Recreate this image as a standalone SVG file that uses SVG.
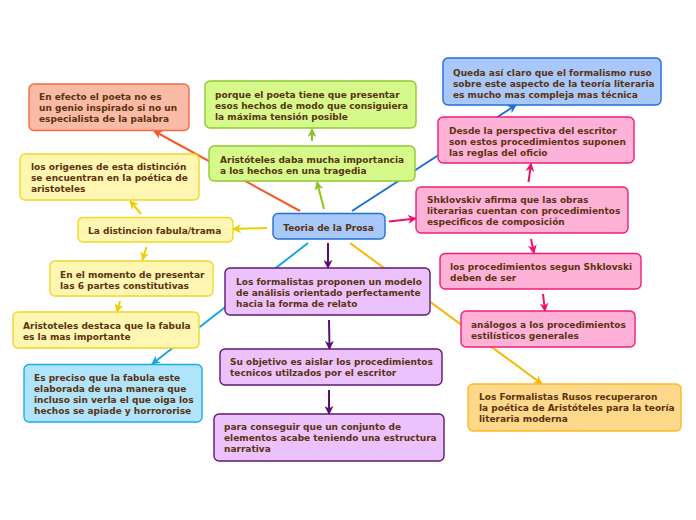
<svg xmlns="http://www.w3.org/2000/svg" width="696" height="520" viewBox="0 0 696 520">
<style>
text{font-family:"DejaVu Sans",sans-serif;font-weight:bold;font-size:9px;fill:#5a3210}
rect{stroke-width:1.4}
.c line{stroke-width:2;fill:none}
.red{fill:#f9bba6;stroke:#f36a44}
.grn{fill:#d5f98a;stroke:#92c832}
.yel{fill:#fff6b2;stroke:#f0d828}
.blu{fill:#a8c8fa;stroke:#2070d8}
.lbl{fill:#b0e4fb;stroke:#1aace8}
.pur{fill:#ebc2fb;stroke:#5e1a72}
.pnk{fill:#ffb2d8;stroke:#f01e78}
.org{fill:#fed98c;stroke:#fbba22}
</style>
<defs>
<marker id="mr" viewBox="0 0 10 10" refX="9" refY="5" markerWidth="9" markerHeight="9" markerUnits="userSpaceOnUse" orient="auto"><path d="M0,0 L10,5 L0,10 L3,5 z" fill="#f35a28"/></marker>
<marker id="mg" viewBox="0 0 10 10" refX="9" refY="5" markerWidth="9" markerHeight="9" markerUnits="userSpaceOnUse" orient="auto"><path d="M0,0 L10,5 L0,10 L3,5 z" fill="#8cc320"/></marker>
<marker id="my" viewBox="0 0 10 10" refX="9" refY="5" markerWidth="9" markerHeight="9" markerUnits="userSpaceOnUse" orient="auto"><path d="M0,0 L10,5 L0,10 L3,5 z" fill="#ecd000"/></marker>
<marker id="mb" viewBox="0 0 10 10" refX="9" refY="5" markerWidth="9" markerHeight="9" markerUnits="userSpaceOnUse" orient="auto"><path d="M0,0 L10,5 L0,10 L3,5 z" fill="#1a6fd6"/></marker>
<marker id="ml" viewBox="0 0 10 10" refX="9" refY="5" markerWidth="9" markerHeight="9" markerUnits="userSpaceOnUse" orient="auto"><path d="M0,0 L10,5 L0,10 L3,5 z" fill="#18a8e0"/></marker>
<marker id="mp" viewBox="0 0 10 10" refX="9" refY="5" markerWidth="9" markerHeight="9" markerUnits="userSpaceOnUse" orient="auto"><path d="M0,0 L10,5 L0,10 L3,5 z" fill="#5a1070"/></marker>
<marker id="mk" viewBox="0 0 10 10" refX="9" refY="5" markerWidth="9" markerHeight="9" markerUnits="userSpaceOnUse" orient="auto"><path d="M0,0 L10,5 L0,10 L3,5 z" fill="#f0106a"/></marker>
<marker id="mo" viewBox="0 0 10 10" refX="9" refY="5" markerWidth="9" markerHeight="9" markerUnits="userSpaceOnUse" orient="auto"><path d="M0,0 L10,5 L0,10 L3,5 z" fill="#f8b800"/></marker>
</defs>
<rect width="696" height="520" fill="#fff" stroke="none"/>
<g id="connectors" class="c">
<line x1="300" y1="211" x2="154" y2="131" stroke="#f35a28" marker-end="url(#mr)"/>
<line x1="324" y1="209" x2="317" y2="182" stroke="#8cc320" marker-end="url(#mg)"/>
<line x1="312" y1="141" x2="312" y2="129" stroke="#8cc320" marker-end="url(#mg)"/>
<line x1="267" y1="228" x2="233" y2="229" stroke="#ecd000" marker-end="url(#my)"/>
<line x1="141" y1="214" x2="130" y2="201" stroke="#ecd000" marker-end="url(#my)"/>
<line x1="146.5" y1="247" x2="142.5" y2="260" stroke="#ecd000" marker-end="url(#my)"/>
<line x1="120" y1="301" x2="117" y2="312" stroke="#ecd000" marker-end="url(#my)"/>
<line x1="308" y1="243" x2="152" y2="364" stroke="#18a8e0" marker-end="url(#ml)"/>
<line x1="328" y1="243" x2="328" y2="268" stroke="#5a1070" marker-end="url(#mp)"/>
<line x1="329" y1="320" x2="329.5" y2="349" stroke="#5a1070" marker-end="url(#mp)"/>
<line x1="329" y1="390" x2="329" y2="414" stroke="#5a1070" marker-end="url(#mp)"/>
<line x1="352" y1="211" x2="516" y2="105" stroke="#1a6fd6" marker-end="url(#mb)"/>
<line x1="389" y1="221.5" x2="416" y2="218.5" stroke="#f0106a" marker-end="url(#mk)"/>
<line x1="528.5" y1="182" x2="531" y2="163.5" stroke="#f0106a" marker-end="url(#mk)"/>
<line x1="531" y1="239" x2="534" y2="253" stroke="#f0106a" marker-end="url(#mk)"/>
<line x1="543" y1="294" x2="545" y2="311" stroke="#f0106a" marker-end="url(#mk)"/>
<line x1="350" y1="243" x2="542" y2="384" stroke="#f8b800" marker-end="url(#mo)"/>
</g>
<g id="n-center"><rect class="blu" x="273" y="213.5" width="112" height="25.5" rx="5"/><text x="328.5" y="230.5" text-anchor="middle">Teoria de la Prosa</text></g>
<g id="n-efecto"><rect class="red" x="29" y="84" width="160" height="46.5" rx="5"/><text x="39" y="100">En efecto el poeta no es</text><text x="39" y="111">un genio inspirado si no un</text><text x="39" y="122">especialista de la palabra</text></g>
<g id="n-porque"><rect class="grn" x="205" y="81" width="211" height="47" rx="5"/><text x="215" y="97.5">porque el poeta tiene que presentar</text><text x="215" y="108.5">esos hechos de modo que consiguiera</text><text x="215" y="119.5">la máxima tensión posible</text></g>
<g id="n-aristoteles"><rect class="grn" x="209" y="146" width="206" height="35" rx="5"/><text x="220" y="162.5">Aristóteles daba mucha importancia</text><text x="220" y="173.5">a los hechos en una tragedia</text></g>
<g id="n-origenes"><rect class="yel" x="20" y="154" width="179" height="46" rx="5"/><text x="31" y="170">los origenes de esta distinción</text><text x="31" y="181">se encuentran en la poética de</text><text x="31" y="192">aristoteles</text></g>
<g id="n-distincion"><rect class="yel" x="78" y="217.5" width="155" height="24.5" rx="5"/><text x="88" y="234">La distincion fabula/trama</text></g>
<g id="n-momento"><rect class="yel" x="50" y="261" width="163" height="35" rx="5"/><text x="60" y="277.5">En el momento de presentar</text><text x="60" y="288.5">las 6 partes constitutivas</text></g>
<g id="n-destaca"><rect class="yel" x="13" y="312" width="186" height="36" rx="5"/><text x="23" y="328.5">Aristoteles destaca que la fabula</text><text x="23" y="339.5">es la mas importante</text></g>
<g id="n-preciso"><rect class="lbl" x="24" y="364.5" width="178" height="57.5" rx="5"/><text x="34" y="381">Es preciso que la fabula este</text><text x="34" y="392">elaborada de una manera que</text><text x="34" y="403">incluso sin verla el que oiga los</text><text x="34" y="414">hechos se apiade y horrororise</text></g>
<g id="n-formalistas"><rect class="pur" x="225" y="268" width="205" height="47" rx="5"/><text x="236" y="284.5">Los formalistas proponen un modelo</text><text x="236" y="295.5">de análisis orientado perfectamente</text><text x="236" y="306.5">hacia la forma de relato</text></g>
<g id="n-objetivo"><rect class="pur" x="220" y="349" width="222" height="36" rx="5"/><text x="230" y="365">Su objetivo es aislar los procedimientos</text><text x="230" y="376">tecnicos utilzados por el escritor</text></g>
<g id="n-conseguir"><rect class="pur" x="214" y="414" width="230" height="47" rx="5"/><text x="224" y="430">para conseguir que un conjunto de</text><text x="224" y="441">elementos acabe teniendo una estructura</text><text x="224" y="452">narrativa</text></g>
<g id="n-queda"><rect class="blu" x="443" y="58" width="218" height="47" rx="5"/><text x="453" y="75.5">Queda así claro que el formalismo ruso</text><text x="453" y="86.5">sobre este aspecto de la teoría literaria</text><text x="453" y="97.5">es mucho mas compleja mas técnica</text></g>
<g id="n-desde"><rect class="pnk" x="438" y="117" width="196" height="46" rx="5"/><text x="449" y="133.5">Desde la perspectiva del escritor</text><text x="449" y="144.5">son estos procedimientos suponen</text><text x="449" y="155.5">las reglas del oficio</text></g>
<g id="n-shklovskiv"><rect class="pnk" x="416" y="187" width="212" height="46" rx="5"/><text x="427" y="203">Shklovskiv afirma que las obras</text><text x="427" y="214">literarias cuentan con procedimientos</text><text x="427" y="225">especificos de composición</text></g>
<g id="n-segun"><rect class="pnk" x="440" y="253.5" width="201" height="35.5" rx="5"/><text x="450" y="270">los procedimientos segun Shklovski</text><text x="450" y="281">deben de ser</text></g>
<g id="n-analogos"><rect class="pnk" x="461" y="311" width="174" height="36" rx="5"/><text x="471" y="327.5">análogos a los procedimientos</text><text x="471" y="338.5">estilísticos generales</text></g>
<g id="n-rusos"><rect class="org" x="468" y="384" width="213" height="47" rx="5"/><text x="479" y="400">Los Formalistas Rusos recuperaron</text><text x="479" y="411">la poética de Aristóteles para la teoría</text><text x="479" y="422">literaria moderna</text></g>
</svg>
